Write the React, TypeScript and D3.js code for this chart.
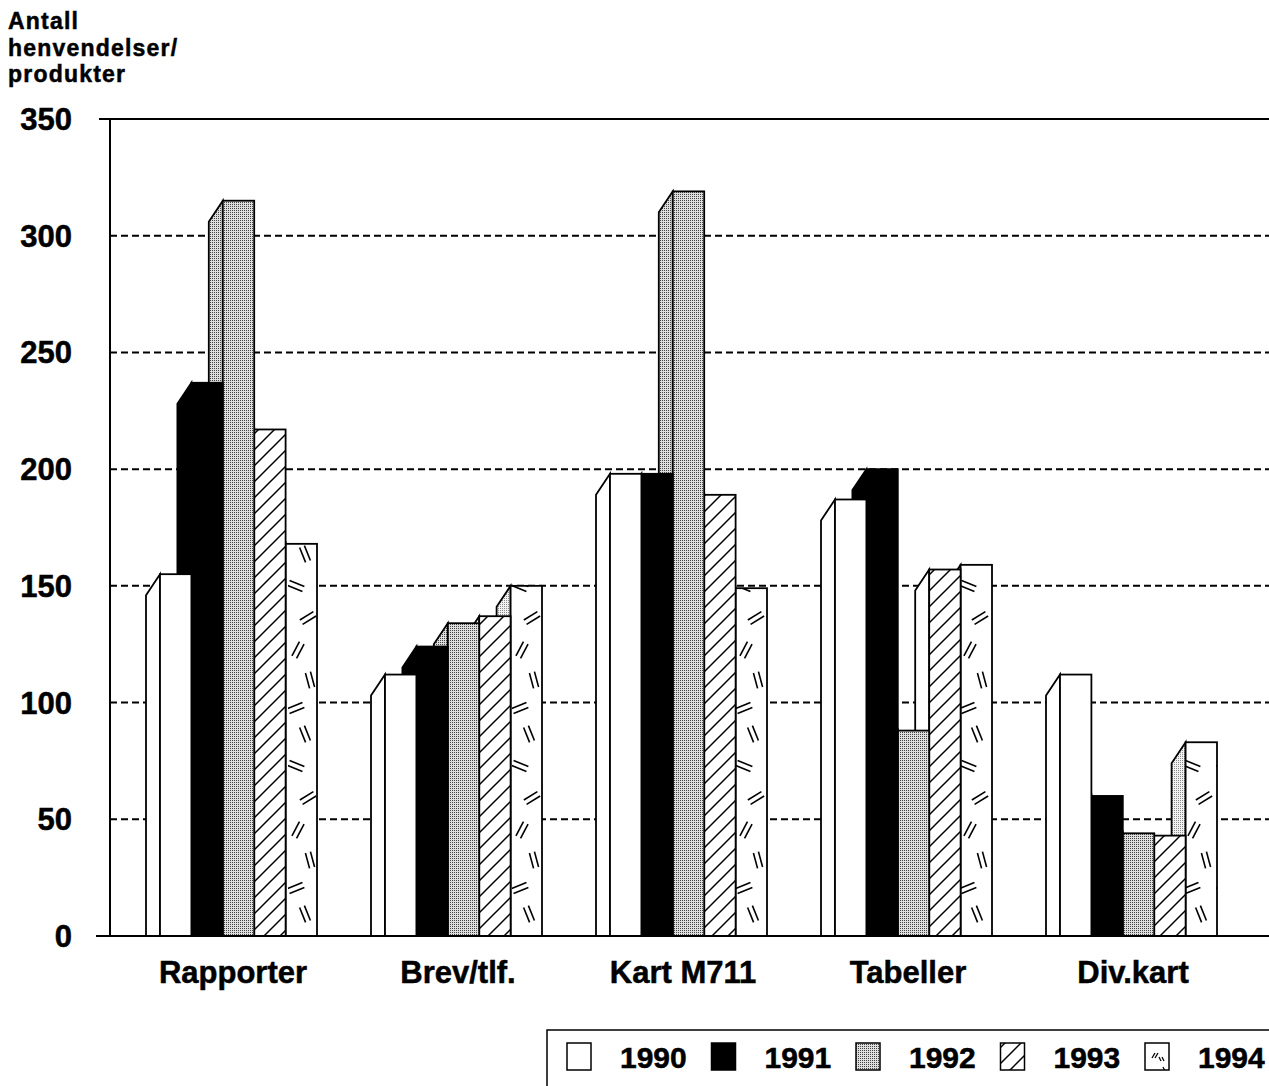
import React from "react";
import * as d3 from "d3";

const categories = ["Rapporter", "Brev/tlf.", "Kart M711", "Tabeller", "Div.kart"];
const years = ["1990", "1991", "1992", "1993", "1994"];
const v1990 = [155, 112, 198, 187, 112];
const v1991 = [237, 124, 198, 200, 60];
const v1992 = [315, 134, 319, 88, 44];
const v1993 = [217, 137, 189, 157, 43];
const v1994 = [168, 150, 149, 159, 83];
const seriesValues = [v1990, v1991, v1992, v1993, v1994];
const yTicks = [0, 50, 100, 150, 200, 250, 300, 350];
const gridTicks = [50, 100, 150, 200, 250, 300];
const titleLines = ["Antall", "henvendelser/", "produkter"];

const W = 1269;
const H = 1086;
const AXIS_X = 110;
const BASE_Y = 936;
const TOP_Y = 119;
const BAR_W = 31.4;
const SIDE_DX = 14;
const SIDE_DY = 21;
const FONT = "'Liberation Sans', Arial, Helvetica, sans-serif";

const frontFill = ["#ffffff", "#000000", "url(#stip)", "url(#hatch)", "url(#marks)"];
const sideFill = ["#ffffff", "#000000", "url(#stip)", "#ffffff", "url(#stipLight)"];

// marks for 1994 pattern: [x, y, angle]
const markDefs: [number, number, number][] = [
  [17, 14, 68],
  [8, 46, 22],
  [20, 78, -32],
  [10, 110, -62],
  [22, 140, 75],
  [8, 168, -22],
];

function Marks() {
  const out: React.ReactNode[] = [];
  markDefs.forEach(([cx, cy, ang], i) => {
    const r = (ang * Math.PI) / 180;
    const dx = Math.cos(r) * 8;
    const dy = Math.sin(r) * 8;
    const px = -Math.sin(r) * 2.6;
    const py = Math.cos(r) * 2.6;
    [-1, 1].forEach((s) => {
      out.push(
        <line
          key={`${i}-${s}`}
          x1={cx - dx + s * px}
          y1={cy - dy + s * py}
          x2={cx + dx + s * px}
          y2={cy + dy + s * py}
          stroke="#000"
          strokeWidth={1.6}
        />
      );
    });
  });
  return <>{out}</>;
}

const textStyle = { stroke: "#000", strokeWidth: 0.5 };

export default function App() {
  const x = d3.scaleBand<string>().domain(categories).range([AXIS_X, AXIS_X + 225 * 5]);
  const y = d3.scaleLinear().domain([0, 350]).range([BASE_Y, TOP_Y]);

  const bars: React.ReactNode[] = [];
  categories.forEach((cat, ci) => {
    const start = (x(cat) as number) + 50;
    for (let si = years.length - 1; si >= 0; si--) {
      const v = seriesValues[si][ci];
      const fx = start + si * BAR_W;
      const top = y(v);
      const side = `${fx},${top} ${fx - SIDE_DX},${top + SIDE_DY} ${fx - SIDE_DX},${BASE_Y} ${fx},${BASE_Y}`;
      bars.push(
        <g key={`${ci}-${si}`}>
          <polygon points={side} fill={sideFill[si]} stroke="#000" strokeWidth={1.8} strokeLinejoin="miter" />
          <rect x={fx} y={top} width={BAR_W} height={BASE_Y - top} fill={frontFill[si]} stroke="#000" strokeWidth={1.8} />
        </g>
      );
    }
  });

  return (
    <svg
      width={W}
      height={H}
      style={{ position: "absolute", left: 0, top: 0, background: "#fff" }}
      fontFamily={FONT}
    >
      <defs>
        <pattern id="stip" width={2} height={2} patternUnits="userSpaceOnUse">
          <rect width={2} height={2} fill="#dedede" />
          <rect width={1} height={1} fill="#444" />
        </pattern>
        <pattern id="stipLight" width={2} height={2} patternUnits="userSpaceOnUse">
          <rect width={2} height={2} fill="#f2f2f2" />
          <rect width={1} height={1} fill="#8a8a8a" />
        </pattern>
        <pattern id="hatch" width={16} height={16} patternUnits="userSpaceOnUse">
          <rect width={16} height={16} fill="#fff" />
          <line x1={0} y1={16} x2={16} y2={0} stroke="#000" strokeWidth={1.5} />
          <line x1={-2} y1={2} x2={2} y2={-2} stroke="#000" strokeWidth={1.5} />
          <line x1={14} y1={18} x2={18} y2={14} stroke="#000" strokeWidth={1.5} />
        </pattern>
        <pattern id="marks" width={32} height={180} patternUnits="userSpaceOnUse">
          <rect width={32} height={180} fill="#fff" />
          <Marks />
        </pattern>
        <pattern id="marksLegend" width={26} height={28} patternUnits="userSpaceOnUse">
          <rect width={26} height={28} fill="#fff" />
          <line x1={8} y1={22} x2={11} y2={17} stroke="#000" strokeWidth={1.3} />
          <line x1={11} y1={22} x2={14} y2={17} stroke="#000" strokeWidth={1.3} />
          <line x1={15} y1={21} x2={17} y2={25} stroke="#000" strokeWidth={1.3} />
          <line x1={18} y1={21} x2={20} y2={25} stroke="#000" strokeWidth={1.3} />
          <line x1={19} y1={3} x2={21} y2={7} stroke="#000" strokeWidth={1.3} />
        </pattern>
      </defs>

      {/* title */}
      {titleLines.map((t, i) => (
        <text
          key={t}
          x={8}
          y={29 + i * 26.5}
          fontSize={23}
          fontWeight="bold"
          letterSpacing={1.2}
          fill="#000"
          style={textStyle}
        >
          {t}
        </text>
      ))}

      {/* grid */}
      {gridTicks.map((t) => (
        <line key={t} x1={AXIS_X} x2={W} y1={y(t)} y2={y(t)} stroke="#000" strokeWidth={2} strokeDasharray="7 4" />
      ))}
      <line x1={99} x2={W} y1={y(350)} y2={y(350)} stroke="#000" strokeWidth={2} />
      <line x1={AXIS_X} x2={AXIS_X} y1={y(350)} y2={BASE_Y} stroke="#000" strokeWidth={2} />

      {/* y tick labels */}
      {yTicks.map((t) => (
        <text
          key={t}
          x={72}
          y={y(t) + 11}
          textAnchor="end"
          fontSize={31}
          fontWeight="bold"
          fill="#000"
          style={textStyle}
        >
          {t}
        </text>
      ))}

      {bars}

      <line x1={96} x2={W} y1={BASE_Y} y2={BASE_Y} stroke="#000" strokeWidth={2} />

      {/* category labels */}
      {categories.map((c) => (
        <text
          key={c}
          x={(x(c) as number) + 123}
          y={983}
          textAnchor="middle"
          fontSize={31}
          fontWeight="bold"
          fill="#000"
          style={textStyle}
        >
          {c}
        </text>
      ))}

      {/* legend */}
      <rect x={547} y={1030} width={800} height={120} fill="none" stroke="#000" strokeWidth={1.5} />
      {years.map((yr, i) => {
        const sx = 567 + i * 144.5;
        const f = i === 4 ? "url(#marksLegend)" : frontFill[i];
        return (
          <g key={yr}>
            <rect x={sx} y={1043} width={24} height={27} fill={f} stroke="#000" strokeWidth={1.5} />
            <text x={sx + 53} y={1068} fontSize={30} fontWeight="bold" fill="#000" style={textStyle}>
              {yr}
            </text>
          </g>
        );
      })}
    </svg>
  );
}
